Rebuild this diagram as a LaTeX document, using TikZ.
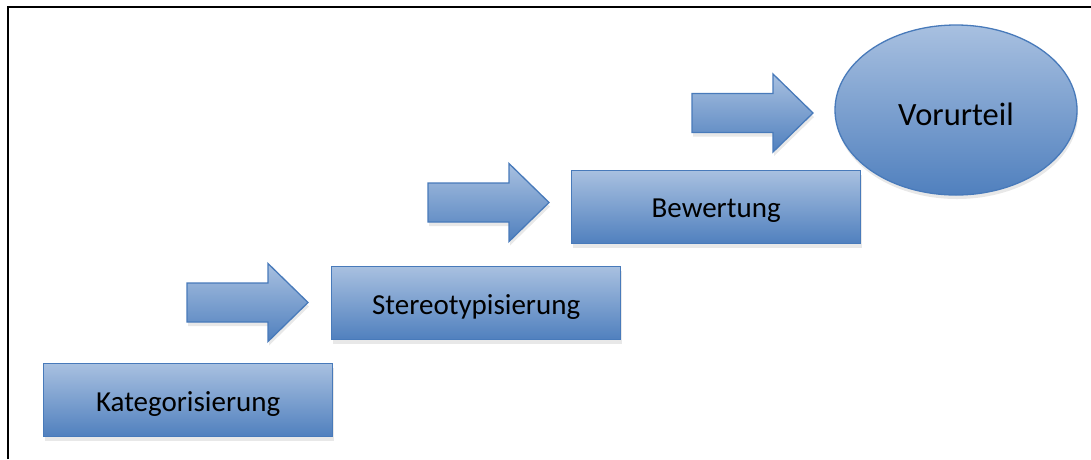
\documentclass[tikz,border=0pt]{standalone}
\usepackage{fontspec}
\setmainfont{Carlito}
\usetikzlibrary{shadows,shapes.geometric}
\definecolor{stufehell}{RGB}{168,192,224}
\definecolor{stufedunkel}{RGB}{80,128,190}
\definecolor{stuferand}{RGB}{72,122,186}
\tikzset{
    stufe/.style={draw=stuferand,line width=1.3pt,top color=stufehell,bottom color=stufedunkel,
        drop shadow={shadow xshift=1pt,shadow yshift=-4pt,fill=black!18}},
    stufenbox/.style={stufe,rectangle,anchor=north west,minimum width=289pt,minimum height=73pt,
        inner sep=0pt,font=\fontsize{29}{33}\selectfont},
}
\newcommand{\stufentext}[1]{\raisebox{-4pt}[\height][\depth]{#1}}
\begin{document}
\begin{tikzpicture}[x=1pt,y=-1pt]
    \useasboundingbox (0,0) rectangle (1091,459);

    % frame
    \draw[line width=2pt] (8,459) -- (8,7) -- (1091,7);

    % steps
    \node[stufenbox] (kat) at (43,363) {\stufentext{Kategorisierung}};
    \node[stufenbox] (ster) at (331,266) {\stufentext{Stereotypisierung}};
    \node[stufenbox] (bew) at (571,170) {\stufentext{Bewertung}};

    % goal
    \node[stufe,ellipse,minimum width=242pt,minimum height=170pt,inner sep=0pt,
        font=\fontsize{32.5}{36}\selectfont] (vor) at (956,110) {\stufentext{Vorurteil}};

    % block arrows between the steps
    \foreach \px/\py in {187/302.5,428/202.5,692/113} {
        \path[stufe] (\px,\py-19.5) -- (\px+81,\py-19.5) -- (\px+81,\py-39) -- (\px+121,\py)
            -- (\px+81,\py+39) -- (\px+81,\py+19.5) -- (\px,\py+19.5) -- cycle;
    }
\end{tikzpicture}
\end{document}
